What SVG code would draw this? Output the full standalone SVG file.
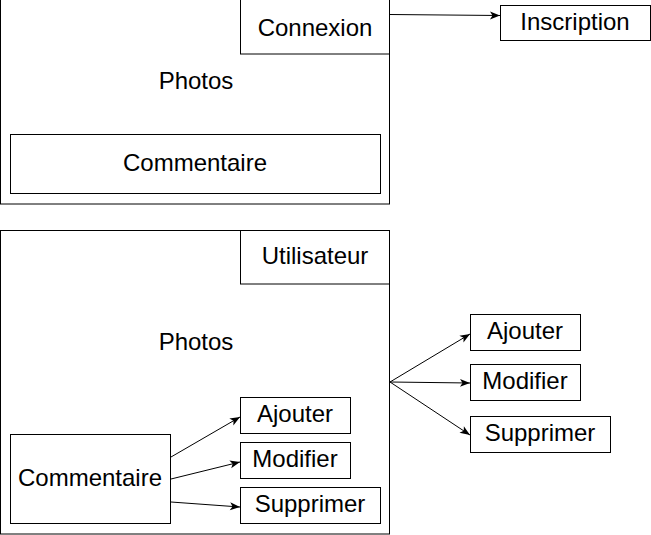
<svg xmlns="http://www.w3.org/2000/svg" width="651" height="535" viewBox="0 0 651 535">
<style>
rect{fill:#fff;stroke:#000;stroke-width:1}
text{font-family:"Liberation Sans",Arial,sans-serif;font-size:24px;fill:#000;text-anchor:middle}
.c line{stroke:#000;stroke-width:1}
</style>
<defs>
<marker id="a" markerUnits="userSpaceOnUse" markerWidth="12" markerHeight="10" refX="10" refY="4" orient="auto" overflow="visible">
<path d="M0,0 L10,4 L0,8 L2.5,4 Z" fill="#000"/>
</marker>
</defs>
<rect width="651" height="535" style="stroke:none"/>
<g id="photos1"><rect x="0.5" y="-0.5" width="389" height="204.5"/><text x="196" y="89">Photos</text></g>
<g id="connexion"><rect x="240.5" y="-0.5" width="149" height="54.5"/><text x="315" y="36">Connexion</text></g>
<g id="commentaire1"><rect x="10.5" y="134.5" width="370" height="59"/><text x="195" y="171">Commentaire</text></g>
<g id="inscription"><rect x="500.5" y="5.5" width="150" height="35"/><text x="575" y="30">Inscription</text></g>
<g id="photos2"><rect x="0.5" y="230.5" width="389" height="303.5"/><text x="196" y="350">Photos</text></g>
<g id="utilisateur"><rect x="240.5" y="230.5" width="149" height="53.5"/><text x="315" y="264">Utilisateur</text></g>
<g id="commentaire2"><rect x="10.5" y="434.5" width="160" height="89"/><text x="90" y="486">Commentaire</text></g>
<g id="ajouter1"><rect x="240.5" y="397.5" width="110" height="36"/><text x="295" y="422">Ajouter</text></g>
<g id="modifier1"><rect x="240.5" y="442.5" width="110" height="36"/><text x="295" y="467">Modifier</text></g>
<g id="supprimer1"><rect x="240.5" y="487.5" width="140" height="36"/><text x="310" y="512">Supprimer</text></g>
<g id="ajouter2"><rect x="470.5" y="314.5" width="110" height="36"/><text x="525" y="339">Ajouter</text></g>
<g id="modifier2"><rect x="470.5" y="364.5" width="110" height="36"/><text x="525" y="389">Modifier</text></g>
<g id="supprimer2"><rect x="470.5" y="416.5" width="140" height="36"/><text x="540" y="441">Supprimer</text></g>
<g id="connectors" class="c">
<line x1="390" y1="14.5" x2="500" y2="15.5" marker-end="url(#a)"/>
<line x1="390" y1="382" x2="470" y2="334" marker-end="url(#a)"/>
<line x1="390" y1="382" x2="470" y2="383" marker-end="url(#a)"/>
<line x1="390" y1="382" x2="470" y2="435" marker-end="url(#a)"/>
<line x1="171" y1="457" x2="240" y2="417" marker-end="url(#a)"/>
<line x1="171" y1="479" x2="240" y2="462" marker-end="url(#a)"/>
<line x1="171" y1="502" x2="240" y2="507" marker-end="url(#a)"/>
</g>
</svg>
